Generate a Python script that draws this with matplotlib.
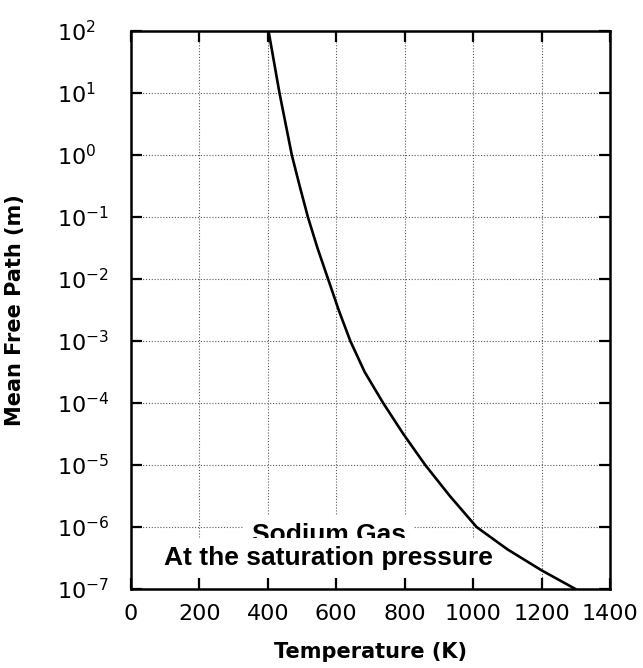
import matplotlib.pyplot as plt
from matplotlib.ticker import NullLocator

# Sodium gas mean free path
temperature = [402, 434, 470, 493, 517, 545, 576, 607, 641, 683, 737, 796, 860, 932,
               1010, 1100, 1200, 1299]
mean_free_path = [1e2, 1e1, 1e0, 3.16e-1, 1e-1, 3.16e-2, 1e-2, 3.16e-3, 1e-3, 3.16e-4,
                  1e-4, 3.16e-5, 1e-5, 3.16e-6, 1e-6, 4.37e-7, 2.0e-7, 1e-7]

x_ticks = [0, 200, 400, 600, 800, 1000, 1200, 1400]
y_ticks = [1e-7, 1e-6, 1e-5, 1e-4, 1e-3, 1e-2, 1e-1, 1e0, 1e1, 1e2]

fig = plt.figure(figsize=(6.43, 6.68), dpi=100)
ax = fig.add_axes([131 / 643, 79 / 668, 479 / 643, 558 / 668])

ax.semilogy(temperature, mean_free_path, color='black', linewidth=1.9, zorder=4)

ax.set_xlim(0, 1400)
ax.set_ylim(1e-7, 1e2)
ax.set_xticks(x_ticks)
ax.set_yticks(y_ticks)
ax.yaxis.set_minor_locator(NullLocator())

ax.grid(True, color='0.35', linestyle=(0, (1, 1.6)), linewidth=0.8)

for side in ax.spines.values():
    side.set_linewidth(1.8)

ax.tick_params(axis='both', which='major', direction='in', length=8, width=1.6,
               top=True, right=True, labelsize=16)
ax.tick_params(axis='x', pad=11)
ax.tick_params(axis='y', pad=53)
for lbl in ax.get_yticklabels():
    lbl.set_horizontalalignment('left')

ax.set_xlabel("Temperature (K)", fontsize=15, fontweight='bold')
ax.xaxis.set_label_coords(0.5, -0.095)
ax.set_ylabel("Mean Free Path (m)", fontsize=15, fontweight='bold')
ax.yaxis.set_label_coords(-0.222, 0.5)

box = dict(boxstyle='square,pad=0.3', facecolor='white', edgecolor='none')
ax.text(578, 10 ** -6.242, "Sodium Gas", ha='center', va='baseline',
        fontsize=19, fontweight='bold', family='Liberation Sans', bbox=box, zorder=3)
ax.text(578, 10 ** -6.613, "At the saturation pressure", ha='center', va='baseline',
        fontsize=19, fontweight='bold', family='Liberation Sans', bbox=box, zorder=3)

plt.savefig("out.png", dpi=100)
plt.close()
